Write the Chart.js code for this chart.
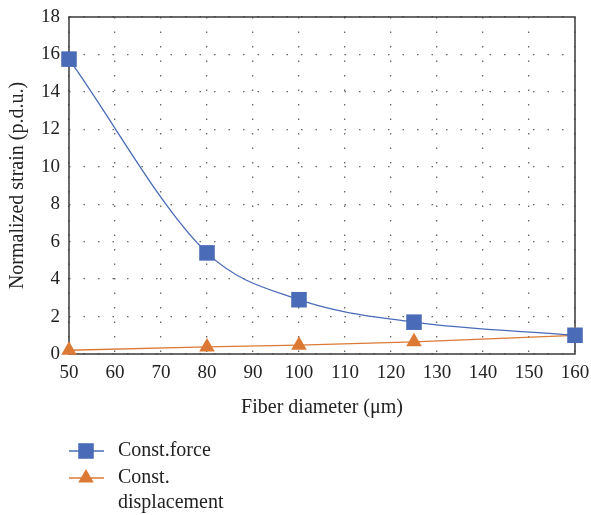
<!DOCTYPE html>
<html>
<head>
<meta charset="utf-8">
<script src="https://cdn.jsdelivr.net/npm/chart.js@4/dist/chart.umd.min.js"></script>
<style>
  html, body { margin: 0; padding: 0; background: #fff; }
  #wrap { width: 591px; height: 515px; }
</style>
</head>
<body>
<div id="wrap"><canvas id="strainChart" width="591" height="515"></canvas></div>
<script>
const fiberDiameters = [50, 80, 100, 125, 160];
const constForce = [15.75, 5.4, 2.9, 1.7, 1.0];
const constDisplacement = [0.2, 0.38, 0.47, 0.65, 1.0];
const xTicks = [50, 60, 70, 80, 90, 100, 110, 120, 130, 140, 150, 160];
const yTicks = [0, 2, 4, 6, 8, 10, 12, 14, 16, 18];

const FONT = "'Liberation Serif', 'Times New Roman', serif";
const BLUE = '#4a6cb8';
const ORANGE = '#dc7a35';

const toPoints = (ys) => fiberDiameters.map((x, i) => ({ x: x, y: ys[i] }));

// frame round the plot + legend under the axis title
const framePlugin = {
  id: 'frame',
  beforeDatasetsDraw(chart) {
    const { ctx, chartArea: a } = chart;
    ctx.save();
    ctx.strokeStyle = '#3a3a3a';
    ctx.lineWidth = 1.5;
    ctx.strokeRect(a.left, a.top, a.right - a.left, a.bottom - a.top);
    ctx.restore();
  },
  afterDraw(chart) {
    const { ctx } = chart;
    ctx.save();
    const items = [
      { color: BLUE, style: 'rect', radius: 11, lines: ['Const.force'], y: 451 },
      { color: ORANGE, style: 'triangle', radius: 9, lines: ['Const.', 'displacement'], y: 478 }
    ];
    items.forEach(it => {
      ctx.strokeStyle = it.color;
      ctx.lineWidth = 1.5;
      ctx.beginPath();
      ctx.moveTo(69, it.y);
      ctx.lineTo(104, it.y);
      ctx.stroke();
      ctx.fillStyle = it.color;
      Chart.helpers.drawPoint(ctx, { pointStyle: it.style, radius: it.radius, borderWidth: 0 }, 86, it.y);
      ctx.fillStyle = '#222';
      ctx.font = '20px ' + FONT;
      ctx.textBaseline = 'middle';
      ctx.textAlign = 'left';
      it.lines.forEach((t, k) => ctx.fillText(t, 118, it.y + k * 25));
    });
    ctx.restore();
  }
};

const noOverflow = (scale) => {
  scale.paddingTop = 0;
  scale.paddingBottom = 0;
  scale.paddingLeft = 0;
  scale.paddingRight = 0;
};

document.addEventListener('DOMContentLoaded', () => {
  const ctx = document.getElementById('strainChart').getContext('2d');
  new Chart(ctx, {
    type: 'line',
    data: {
      datasets: [{
        label: 'Const.force',
        data: toPoints(constForce),
        borderColor: BLUE,
        backgroundColor: BLUE,
        borderWidth: 1.3,
        pointStyle: 'rect',
        pointRadius: 11,
        pointHoverRadius: 11,
        pointBorderWidth: 0,
        cubicInterpolationMode: 'monotone',
        clip: false
      }, {
        label: 'Const. displacement',
        data: toPoints(constDisplacement),
        borderColor: ORANGE,
        backgroundColor: ORANGE,
        borderWidth: 1.3,
        pointStyle: 'triangle',
        pointRadius: 9,
        pointHoverRadius: 9,
        pointBorderWidth: 0,
        tension: 0,
        clip: false
      }]
    },
    options: {
      responsive: false,
      animation: false,
      layout: { padding: { left: 0, top: 17, right: 16, bottom: 91 } },
      plugins: {
        legend: { display: false },
        tooltip: { enabled: false }
      },
      scales: {
        x: {
          type: 'linear',
          min: 50,
          max: 160,
          afterBuildTicks(scale) { scale.ticks = xTicks.map(v => ({ value: v })); },
          afterFit(scale) { scale.height = 70; noOverflow(scale); },
          ticks: { color: '#222', font: { family: FONT, size: 19 }, padding: 8 },
          grid: { color: '#666', lineWidth: 1.3, drawTicks: false },
          border: { display: false, dash: [1.5, 13] },
          title: {
            display: true,
            text: 'Fiber diameter (μm)',
            color: '#222',
            font: { family: FONT, size: 20 },
            padding: { top: 3 }
          }
        },
        y: {
          min: 0,
          max: 18,
          afterBuildTicks(scale) { scale.ticks = yTicks.map(v => ({ value: v })); },
          afterFit(scale) { scale.width = 69; noOverflow(scale); },
          ticks: { color: '#222', font: { family: FONT, size: 19 }, padding: 9 },
          grid: { color: '#666', lineWidth: 1.3, drawTicks: false },
          border: { display: false, dash: [1.5, 13] },
          title: {
            display: true,
            text: 'Normalized strain (p.d.u.)',
            color: '#222',
            font: { family: FONT, size: 20 },
            padding: { top: 6, bottom: 2 }
          }
        }
      }
    },
    plugins: [framePlugin]
  });
});
</script>
</body>
</html>
